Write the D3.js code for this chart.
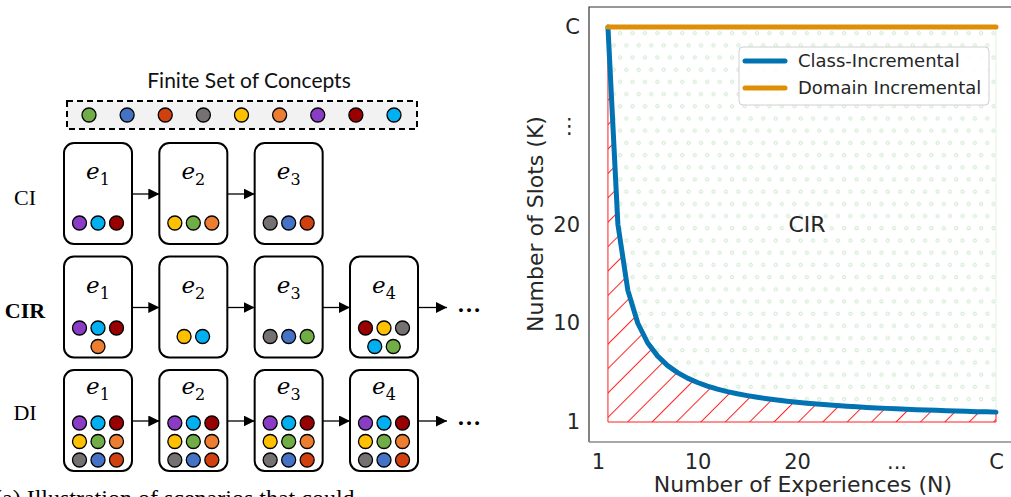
<!DOCTYPE html>
<html>
<head>
<meta charset="utf-8">
<script src="https://cdn.jsdelivr.net/npm/d3@7"></script>
<style>
body { margin: 0; background: #fff; }
svg { display: block; }
</style>
</head>
<body>
<svg id="fig" width="1011" height="497"></svg>
<script>
// ---- left panel: concepts and experiences ----
var conceptNames = ['green', 'blue', 'rust', 'grey', 'yellow', 'orange', 'purple', 'maroon', 'cyan'];
var conceptColors = ['#70ad47', '#4472c4', '#d0410f', '#767171', '#ffc000', '#ed7d31', '#8a3dc4', '#990000', '#00b0f0'];

var rowLabels = ['CI', 'CIR', 'DI'];
var ciBoxes = [
    [['purple', 'cyan', 'maroon']],
    [['yellow', 'green', 'orange']],
    [['grey', 'blue', 'rust']]
];
var cirBoxes = [
    [['purple', 'cyan', 'maroon'], ['orange']],
    [['yellow', 'cyan']],
    [['grey', 'blue', 'green']],
    [['maroon', 'yellow', 'grey'], ['cyan', 'green']]
];
var diBoxes = [
    [['purple', 'cyan', 'maroon'], ['yellow', 'green', 'orange'], ['grey', 'blue', 'rust']],
    [['purple', 'cyan', 'maroon'], ['yellow', 'green', 'orange'], ['grey', 'blue', 'rust']],
    [['purple', 'cyan', 'maroon'], ['yellow', 'green', 'orange'], ['grey', 'blue', 'rust']],
    [['purple', 'cyan', 'maroon'], ['yellow', 'green', 'orange'], ['grey', 'blue', 'rust']]
];
var rowContinues = [false, true, true];

// ---- right panel: slots vs experiences ----
var experiences = [1, 2, 3, 4, 5, 6, 7, 8, 9, 10, 11, 12, 13, 14, 15, 16, 17, 18, 19, 20,
    21, 22, 23, 24, 25, 26, 27, 28, 29, 30, 31, 32, 33, 34, 35, 36, 37, 38, 39, 40];
var slotsClassInc = [40, 20, 13.33, 10, 8, 6.67, 5.71, 5, 4.44, 4, 3.64, 3.33, 3.08, 2.86, 2.67, 2.5, 2.35, 2.22, 2.11, 2,
    1.9, 1.82, 1.74, 1.67, 1.6, 1.54, 1.48, 1.43, 1.38, 1.33, 1.29, 1.25, 1.21, 1.18, 1.14, 1.11, 1.08, 1.05, 1.03, 1];
var domainIncN = [1, 40];
var domainIncK = [40, 40];
var tickValues = [0, 10, 20, 30, 40];
var xTickLabels = ['1', '10', '20', '...', 'C'];
var yTickLabels = ['1', '10', '20', '\u22EE', 'C'];
var seriesNames = ['Class-Incremental', 'Domain Incremental'];
var seriesColors = ['#0173b2', '#de8f05'];

var svg = d3.select('#fig');
var colorOf = d3.scaleOrdinal().domain(conceptNames).range(conceptColors);

var defs = svg.append('defs');
defs.append('marker')
    .attr('id', 'arrow')
    .attr('markerUnits', 'userSpaceOnUse')
    .attr('markerWidth', 11)
    .attr('markerHeight', 11)
    .attr('refX', 11)
    .attr('refY', 5.5)
    .attr('orient', 'auto')
    .append('path')
    .attr('d', 'M0,0 L11,5.5 L0,11 Z')
    .attr('fill', '#000');

// hatch for the region under the curve
var hatch = defs.append('pattern')
    .attr('id', 'redHatch')
    .attr('patternUnits', 'userSpaceOnUse')
    .attr('width', 17.25)
    .attr('height', 10)
    .attr('patternTransform', 'rotate(45)');
hatch.append('line')
    .attr('x1', 0.5).attr('y1', 0).attr('x2', 0.5).attr('y2', 10)
    .attr('stroke', '#ff2020')
    .attr('stroke-width', 1);

// small circles for the CIR region
var dots = defs.append('pattern')
    .attr('id', 'dotHatch')
    .attr('patternUnits', 'userSpaceOnUse')
    .attr('x', 617)
    .attr('y', 27)
    .attr('width', 12.45)
    .attr('height', 24.4);
dots.append('circle').attr('cx', 3.1).attr('cy', 6.1).attr('r', 1.6);
dots.append('circle').attr('cx', 9.3).attr('cy', 18.3).attr('r', 1.6);
dots.selectAll('circle')
    .attr('fill', 'none')
    .attr('stroke', '#c2e2c2')
    .attr('stroke-width', 0.9);

// ================= left diagram =================
var left = svg.append('g');
var conceptX = d3.scalePoint().domain(conceptNames).range([89, 394]);

left.append('text')
    .text('Finite Set of Concepts')
    .attr('x', 249)
    .attr('y', 88)
    .attr('text-anchor', 'middle')
    .attr('font-family', 'Lato, "Open Sans", sans-serif')
    .attr('font-size', 21)
    .attr('fill', '#111');

left.append('rect')
    .attr('x', 67)
    .attr('y', 101)
    .attr('width', 350)
    .attr('height', 28)
    .attr('fill', '#f2f2f2')
    .attr('stroke', '#000')
    .attr('stroke-width', 2)
    .attr('stroke-dasharray', '6,4');

left.selectAll('circle.concept')
    .data(conceptNames)
    .enter()
    .append('circle')
    .attr('class', 'concept')
    .attr('cx', function (d) { return conceptX(d); })
    .attr('cy', 115)
    .attr('r', 7)
    .attr('fill', function (d) { return colorOf(d); })
    .attr('stroke', '#000')
    .attr('stroke-width', 1.3);

var boxW = 68, boxH = 101;
var boxX = d3.scaleLinear().domain([0, 3]).range([64, 350]);
var rowY = d3.scalePoint().domain(rowLabels).range([143, 370]);
var rows = [ciBoxes, cirBoxes, diBoxes];

rows.forEach(function (boxes, r) {
    var label = rowLabels[r];
    var top = rowY(label);
    var g = left.append('g');
    var deep = boxes[0].length === 3;

    g.append('text')
        .text(label)
        .attr('x', 25)
        .attr('y', top + (deep ? 42 : 54))
        .attr('dy', '0.35em')
        .attr('text-anchor', 'middle')
        .attr('font-family', '"Liberation Serif", serif')
        .attr('font-size', 22)
        .attr('font-weight', label === 'CIR' ? 'bold' : 'normal')
        .attr('fill', '#000');

    var arrowY = top + 51;

    boxes.forEach(function (circleRows, i) {
        var bx = boxX(i);
        var cx = bx + boxW / 2;

        g.append('rect')
            .attr('x', bx)
            .attr('y', top)
            .attr('width', boxW)
            .attr('height', boxH)
            .attr('rx', 10)
            .attr('fill', '#fff')
            .attr('stroke', '#000')
            .attr('stroke-width', 2);

        var t = g.append('text')
            .attr('x', cx)
            .attr('y', top + (deep ? 24 : 36))
            .attr('text-anchor', 'middle')
            .attr('font-family', '"DejaVu Serif", serif')
            .attr('fill', '#000');
        t.append('tspan')
            .text('e')
            .attr('font-style', 'italic')
            .attr('font-size', 23);
        t.append('tspan')
            .text(i + 1)
            .attr('font-size', 16)
            .attr('dy', 6);

        var n = circleRows.length;
        circleRows.forEach(function (row, k) {
            var cy = n === 1 ? top + 80 : top + 90 - (n - 1 - k) * 18.5;
            var rowX = d3.scalePoint()
                .domain(d3.range(row.length))
                .range([cx - (row.length - 1) * 9.25, cx + (row.length - 1) * 9.25]);
            row.forEach(function (name, j) {
                g.append('circle')
                    .attr('cx', row.length === 1 ? cx : rowX(j))
                    .attr('cy', cy)
                    .attr('r', 7)
                    .attr('fill', colorOf(name))
                    .attr('stroke', '#000')
                    .attr('stroke-width', 1.3);
            });
        });

        if (i < boxes.length - 1 || rowContinues[r]) {
            var x2 = i < boxes.length - 1 ? boxX(i + 1) : bx + boxW + 29;
            g.append('line')
                .attr('x1', bx + boxW)
                .attr('y1', arrowY)
                .attr('x2', x2)
                .attr('y2', arrowY)
                .attr('stroke', '#000')
                .attr('stroke-width', 1.3)
                .attr('marker-end', 'url(#arrow)');
        }
        if (i === boxes.length - 1 && rowContinues[r]) {
            g.append('text')
                .text('\u2026')
                .attr('x', bx + boxW + 39)
                .attr('y', arrowY + 4)
                .attr('font-family', '"Liberation Serif", serif')
                .attr('font-weight', 'bold')
                .attr('font-size', 24)
                .attr('fill', '#000');
        }
    });
});

// caption, clipped by the bottom edge as in the source figure
left.append('text')
    .text('(a) Illustration of scenarios that could')
    .attr('x', -6)
    .attr('y', 506)
    .attr('font-family', '"Liberation Serif", serif')
    .attr('font-size', 24)
    .attr('fill', '#000');

// ================= right chart =================
var x = d3.scaleLinear().domain([0, 40]).range([598, 996]);
var y = d3.scaleLinear().domain([0, 40]).range([422, 27]);
var chart = svg.append('g');
var textColor = '#262626';

var ciPoints = experiences.map(function (n, i) { return [n, slotsClassInc[i]]; });
var last = ciPoints[ciPoints.length - 1];

var below = [[ciPoints[0][0], 0]].concat(ciPoints, [[last[0], 0]]);
var above = ciPoints.concat([[last[0], 40]]);

var area = d3.line()
    .x(function (d) { return x(d[0]); })
    .y(function (d) { return y(d[1]); });

chart.append('path')
    .attr('d', area(below) + 'Z')
    .attr('fill', 'url(#redHatch)')
    .attr('stroke', '#ff2020')
    .attr('stroke-width', 1);

chart.append('path')
    .attr('d', area(above) + 'Z')
    .attr('fill', 'url(#dotHatch)')
    .attr('stroke', '#e2f1e2')
    .attr('stroke-width', 1);

chart.append('path')
    .attr('d', area(ciPoints))
    .attr('fill', 'none')
    .attr('stroke', seriesColors[0])
    .attr('stroke-width', 5)
    .attr('stroke-linecap', 'round')
    .attr('stroke-linejoin', 'round');

chart.append('path')
    .attr('d', area(domainIncN.map(function (n, i) { return [n, domainIncK[i]]; })))
    .attr('fill', 'none')
    .attr('stroke', seriesColors[1])
    .attr('stroke-width', 5)
    .attr('stroke-linecap', 'round');

// spines
chart.append('path')
    .attr('d', 'M1015,7 L589,7 L589,442')
    .attr('fill', 'none')
    .attr('stroke', '#333')
    .attr('stroke-width', 1.2);
chart.append('line')
    .attr('x1', 589).attr('y1', 442).attr('x2', 1015).attr('y2', 442)
    .attr('stroke', '#8a8a8a')
    .attr('stroke-width', 1.6);

var xAxis = chart.append('g')
    .attr('transform', 'translate(0,442)')
    .call(d3.axisBottom(x)
        .tickValues(tickValues)
        .tickSize(0)
        .tickPadding(12)
        .tickFormat(function (d, i) { return xTickLabels[i]; }));
var yAxis = chart.append('g')
    .attr('transform', 'translate(589,0)')
    .call(d3.axisLeft(y)
        .tickValues(tickValues)
        .tickSize(0)
        .tickPadding(9)
        .tickFormat(function (d, i) { return yTickLabels[i]; }));
[xAxis, yAxis].forEach(function (a) {
    a.select('.domain').remove();
    a.selectAll('text')
        .attr('font-family', '"DejaVu Sans", sans-serif')
        .attr('font-size', 21)
        .attr('fill', textColor);
});

chart.append('text')
    .text('Number of Experiences (N)')
    .attr('x', 803)
    .attr('y', 492)
    .attr('text-anchor', 'middle')
    .attr('font-family', '"DejaVu Sans", sans-serif')
    .attr('font-size', 22)
    .attr('fill', textColor);

chart.append('text')
    .text('Number of Slots (K)')
    .attr('transform', 'translate(543,224) rotate(-90)')
    .attr('text-anchor', 'middle')
    .attr('font-family', '"DejaVu Sans", sans-serif')
    .attr('font-size', 22)
    .attr('fill', textColor);

chart.append('text')
    .text('CIR')
    .attr('x', x(21))
    .attr('y', y(20))
    .attr('dy', '0.35em')
    .attr('text-anchor', 'middle')
    .attr('font-family', '"DejaVu Sans", sans-serif')
    .attr('font-size', 22)
    .attr('fill', textColor);

// legend
var legend = chart.append('g').attr('transform', 'translate(739,47)');
legend.append('rect')
    .attr('width', 250)
    .attr('height', 58)
    .attr('rx', 4)
    .attr('fill', '#fff')
    .attr('fill-opacity', 0.85)
    .attr('stroke', '#d0d0d0');
seriesNames.forEach(function (name, i) {
    var ly = 14 + i * 27;
    legend.append('line')
        .attr('x1', 6).attr('x2', 46)
        .attr('y1', ly).attr('y2', ly)
        .attr('stroke', seriesColors[i])
        .attr('stroke-width', 5)
        .attr('stroke-linecap', 'round');
    legend.append('text')
        .text(name)
        .attr('x', 59)
        .attr('y', ly)
        .attr('dy', '0.36em')
        .attr('font-family', '"DejaVu Sans", sans-serif')
        .attr('font-size', 18)
        .attr('fill', textColor);
});
</script>
</body>
</html>
